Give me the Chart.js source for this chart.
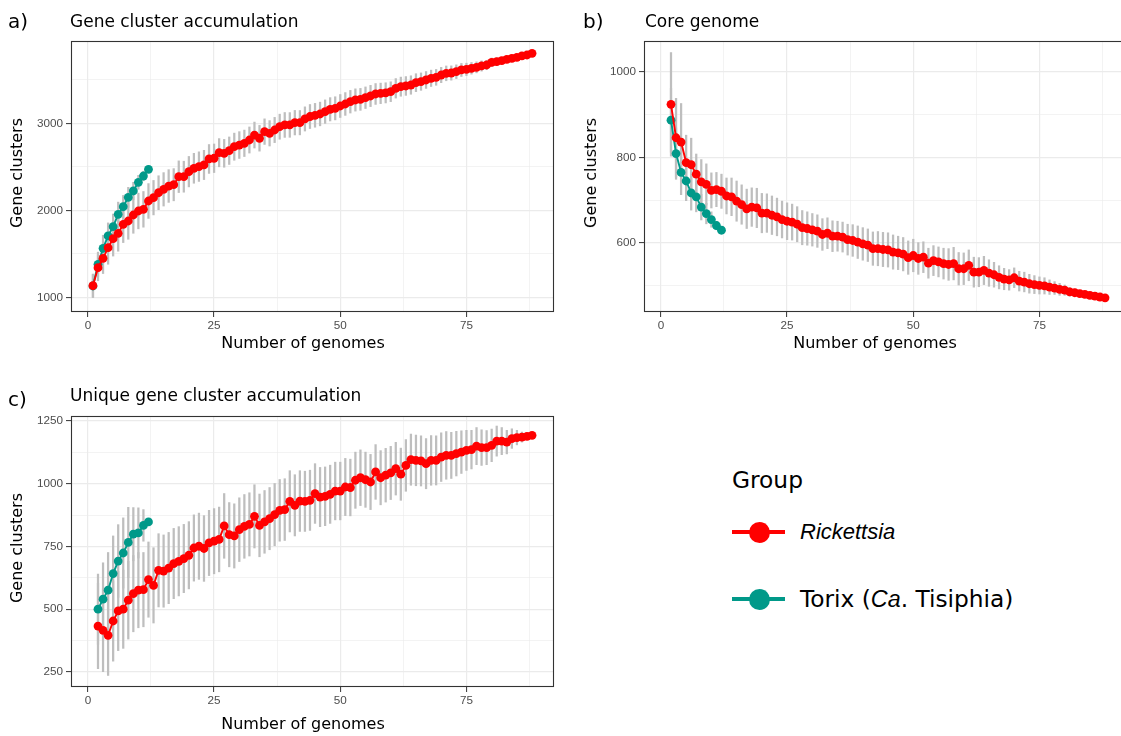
<!DOCTYPE html>
<html>
<head>
<meta charset="utf-8">
<script src="https://cdn.jsdelivr.net/npm/chart.js@4.4.0/dist/chart.umd.min.js"></script>
<style>
  body { margin: 0; background: #fff; }
  #page { position: relative; width: 1121px; height: 736px; overflow: hidden; font-family: "DejaVu Sans", Verdana, sans-serif; color: #000; }
  canvas { position: absolute; }
  .t { position: absolute; white-space: nowrap; line-height: 1; }
  .lab { font-size: 20px; }
  .ttl { font-size: 17px; }
  .axt { font-size: 16px; transform: translate(-50%, -50%); }
  .axy { font-size: 16px; transform: translate(-50%, -50%) rotate(-90deg); }
  .leg { font-size: 23.3px; transform: translateY(-50%); }
  .it { font-family: "Liberation Sans", Arial, sans-serif; font-style: italic; }
  .key { position: absolute; width: 53px; height: 4px; }
  .dot { position: absolute; width: 21px; height: 21px; border-radius: 50%; }
</style>
</head>
<body>
<div id="page">
  <canvas id="chartA" width="560" height="360" style="left:0;top:0"></canvas>
  <canvas id="chartB" width="563" height="360" style="left:570px;top:0"></canvas>
  <canvas id="chartC" width="560" height="360" style="left:0;top:375px"></canvas>

  <div class="t lab" style="left:8px;top:11px">a)</div>
  <div class="t ttl" style="left:70px;top:13px">Gene cluster accumulation</div>
  <div class="t lab" style="left:583px;top:11px">b)</div>
  <div class="t ttl" style="left:645px;top:13px">Core genome</div>
  <div class="t lab" style="left:8px;top:389px">c)</div>
  <div class="t ttl" style="left:70px;top:387px">Unique gene cluster accumulation</div>

  <div class="t axy" style="left:17px;top:173px">Gene clusters</div>
  <div class="t axy" style="left:591px;top:173px">Gene clusters</div>
  <div class="t axy" style="left:17px;top:548px">Gene clusters</div>
  <div class="t axt" style="left:303px;top:343px">Number of genomes</div>
  <div class="t axt" style="left:875px;top:343px">Number of genomes</div>
  <div class="t axt" style="left:303px;top:724px">Number of genomes</div>

  <div class="t leg" style="left:732px;top:480px">Group</div>
  <div class="key" style="left:732px;top:530px;background:#FF0000"></div>
  <div class="dot" style="left:749px;top:522px;background:#FF0000"></div>
  <div class="t leg it" style="left:800px;top:532px;font-size:22px">Rickettsia</div>
  <div class="key" style="left:732px;top:597px;background:#009989"></div>
  <div class="dot" style="left:749px;top:589px;background:#009989"></div>
  <div class="t leg" style="left:800px;top:599px">Torix (<span class="it">Ca</span>. Tisiphia)</div>
</div>

<script>
// numero de genomas muestreados
const genomes = [1,2,3,4,5,6,7,8,9,10,11,12,13,14,15,16,17,18,19,20,21,22,23,24,25,26,27,28,29,30,
  31,32,33,34,35,36,37,38,39,40,41,42,43,44,45,46,47,48,49,50,51,52,53,54,55,56,57,58,59,60,
  61,62,63,64,65,66,67,68,69,70,71,72,73,74,75,76,77,78,79,80,81,82,83,84,85,86,87,88];
const genomesTorix = [1,2,3,4,5,6,7,8,9,10,11,12];

// a) Gene cluster accumulation (x = 1..88 / 1..12)
const accumRick = [1133,1340,1448,1570,1674,1735,1839,1877,1946,1992,
  2011,2107,2145,2202,2241,2279,2294,2386,2386,2444,
  2483,2502,2521,2590,2598,2662,2655,2685,2731,2750,
  2770,2808,2865,2828,2904,2885,2923,2961,2981,2981,
  3007,3007,3050,3078,3092,3107,3134,3161,3172,3199,
  3222,3248,3268,3275,3294,3314,3337,3344,3350,3363,
  3402,3421,3429,3440,3467,3479,3498,3517,3528,3555,
  3574,3578,3593,3613,3620,3632,3643,3659,3670,3701,
  3708,3720,3735,3747,3758,3774,3785,3804];
const accumRickSd = [134,150,175,190,200,205,210,210,210,205,
  205,200,198,195,192,188,185,182,178,175,
  172,170,168,166,164,162,160,158,156,154,
  152,150,149,148,147,146,145,144,143,142,
  141,140,139,138,137,136,135,134,133,132,
  131,130,128,126,124,122,120,118,116,114,
  112,110,108,106,103,100,97,94,91,88,
  85,82,79,75,71,67,63,59,54,49,
  44,39,33,27,21,15,8,0];
const accumTorix = [1130,1379,1563,1705,1812,1954,2041,2149,2222,2322,2394,2471];
const accumTorixSd = [130,140,150,150,145,140,130,115,100,80,55,0];

// b) Core genome (x = 2..88 / 2..12)
const coreRick = [924,846,836,788,783,761,743,737,723,725,
  721,710,708,698,690,680,684,682,670,670,
  665,661,655,651,649,644,636,634,631,628,
  620,623,616,616,614,608,606,602,598,595,
  587,587,585,584,579,577,574,566,571,564,
  567,553,559,556,552,550,552,540,540,548,
  532,532,536,530,526,520,516,514,519,511,
  509,505,503,501,500,497,495,492,490,486,
  484,482,480,478,476,474,472];
const coreRickSd = [121,92,90,64,62,47,52,48,41,40,
  40,42,44,47,46,46,45,46,46,45,
  45,44,43,43,42,41,40,39,38,38,
  37,36,36,35,35,36,37,38,38,38,
  39,40,40,40,40,39,39,39,38,37,
  36,35,35,35,36,37,38,38,37,36,
  35,34,33,31,29,27,25,24,23,23,
  23,22,21,20,19,17,15,14,12,10,
  9,7,6,4,3,1,0];
const coreTorix = [887,809,765,745,717,708,684,669,655,641,630];
const coreTorixSd = [75,60,52,46,40,35,30,24,18,10,0];

// c) Unique gene cluster accumulation (x = 2..88 / 2..12)
const uniqueRick = [433,416,396,453,493,500,536,562,576,578,
  618,595,655,652,664,682,691,702,715,744,
  751,742,764,771,778,832,797,792,817,830,
  838,870,834,848,861,877,894,897,930,914,
  931,930,934,961,947,950,958,971,971,987,
  985,1014,1024,1016,1007,1047,1024,1034,1043,1060,
  1038,1073,1096,1093,1091,1080,1093,1093,1106,1113,
  1113,1120,1126,1133,1136,1150,1144,1144,1153,1170,
  1170,1166,1180,1184,1186,1189,1193];
const uniqueRickSd = [170,165,160,160,158,156,155,152,150,148,
  150,150,146,144,142,140,138,136,134,132,
  132,131,130,130,129,129,128,128,127,127,
  126,126,125,125,124,124,123,123,122,122,
  121,120,120,119,118,117,116,115,115,114,
  113,112,111,110,110,109,108,107,106,105,
  104,103,102,101,100,100,99,98,97,95,
  92,89,85,80,77,74,71,68,65,60,
  54,47,39,29,20,10,0];
const uniqueTorix = [500,540,576,642,692,724,766,799,804,834,848];
const uniqueTorixSd = [140,145,150,150,145,140,140,106,100,63,0];

// ejes
const xTicks = [0, 12.5, 25, 37.5, 50, 62.5, 75, 87.5];
const xMajor = [0, 25, 50, 75];
const yTicksA = [1000, 1500, 2000, 2500, 3000, 3500];
const yMajorA = [1000, 2000, 3000];
const yTicksB = [500, 600, 700, 800, 900, 1000];
const yMajorB = [600, 800, 1000];
const yTicksC = [250, 375, 500, 625, 750, 875, 1000, 1125, 1250];
const yMajorC = [250, 500, 750, 1000, 1250];

const RED = '#FF0000';
const TEAL = '#009989';
const tickFont = { family: '"Liberation Sans", Arial, sans-serif', size: 11.7 };

// marco del panel (theme_bw)
const marco = {
  id: 'marco',
  afterDatasetsDraw(chart) {
    const a = chart.chartArea;
    const ctx = chart.ctx;
    ctx.save();
    ctx.strokeStyle = '#333333';
    ctx.lineWidth = 1.1;
    ctx.strokeRect(Math.round(a.left) + 0.5, Math.round(a.top) + 0.5,
      Math.round(a.right - a.left) - 1, Math.round(a.bottom - a.top) - 1);
    ctx.restore();
  }
};

function ejeGrid(major) {
  return {
    color: '#EBEBEB',
    lineWidth: c => (c.tick && major.includes(c.tick.value)) ? 1.2 : 0.6,
    tickColor: c => (c.tick && major.includes(c.tick.value)) ? '#333333' : 'rgba(0,0,0,0)',
    tickWidth: 1,
    tickLength: 5
  };
}

function serie(x, y, sd, color, orden) {
  return {
    puntos: {
      type: 'line',
      data: x.map((v, i) => ({ x: v, y: y[i] })),
      borderColor: color,
      backgroundColor: color,
      borderWidth: 1.9,
      pointRadius: 4.4,
      pointBorderWidth: 0,
      pointBackgroundColor: color,
      tension: 0,
      order: orden
    },
    barras: {
      type: 'bar',
      data: x.map((v, i) => ({ x: v, y: [y[i] - sd[i], y[i] + sd[i]] })),
      backgroundColor: '#BEBEBE',
      borderWidth: 0,
      barThickness: 1.6,
      grouped: false,
      order: 10
    }
  };
}

function panel(id, yMin, yMax, yTicks, yMajor, anchoY, series) {
  const datasets = [];
  series.forEach(s => datasets.push(s.barras));
  series.forEach(s => datasets.push(s.puntos));

  new Chart(document.getElementById(id), {
    type: 'line',
    data: { datasets: datasets },
    options: {
      responsive: false,
      animation: false,
      devicePixelRatio: 1,
      layout: { padding: { top: 41, right: 6, left: 0, bottom: 0 } },
      plugins: { legend: { display: false }, tooltip: { enabled: false } },
      scales: {
        x: {
          type: 'linear', min: -3.35, max: 92.35, offset: false,
          afterBuildTicks: s => { s.ticks = xTicks.map(v => ({ value: v })); },
          afterFit: s => { s.height = 48; },
          ticks: {
            autoSkip: false, maxRotation: 0, padding: 2, color: '#4D4D4D', font: tickFont,
            callback: v => xMajor.includes(v) ? String(v) : ''
          },
          grid: Object.assign({ offset: false }, ejeGrid(xMajor)),
          border: { display: false }
        },
        y: {
          type: 'linear', min: yMin, max: yMax,
          afterBuildTicks: s => { s.ticks = yTicks.map(v => ({ value: v })); },
          afterFit: s => { s.width = anchoY; },
          ticks: {
            padding: 3, color: '#4D4D4D', font: tickFont,
            callback: v => yMajor.includes(v) ? String(v) : ''
          },
          grid: ejeGrid(yMajor),
          border: { display: false }
        }
      }
    },
    plugins: [marco]
  });
}

panel('chartA', 831, 3946, yTicksA, yMajorA, 71, [
  serie(genomes, accumRick, accumRickSd, RED, 1),
  serie(genomesTorix, accumTorix, accumTorixSd, TEAL, 2)
]);

panel('chartB', 439, 1072, yTicksB, yMajorB, 74, [
  serie(genomes.slice(1), coreRick, coreRickSd, RED, 1),
  serie(genomesTorix.slice(1), coreTorix, coreTorixSd, TEAL, 2)
]);

panel('chartC', 190, 1270, yTicksC, yMajorC, 71, [
  serie(genomes.slice(1), uniqueRick, uniqueRickSd, RED, 1),
  serie(genomesTorix.slice(1), uniqueTorix, uniqueTorixSd, TEAL, 2)
]);
</script>
</body>
</html>
